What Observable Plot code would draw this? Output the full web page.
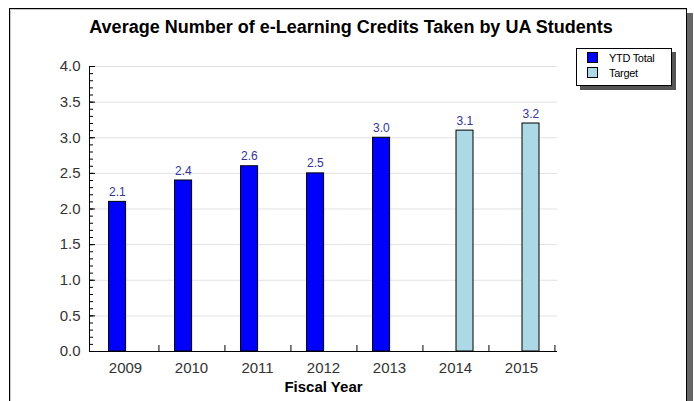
<!DOCTYPE html>
<html>
<head>
<meta charset="utf-8">
<script src="https://cdn.jsdelivr.net/npm/d3@7"></script>
<script src="https://cdn.jsdelivr.net/npm/@observablehq/plot@0.6"></script>
<style>
  body { margin: 0; background: #fff; font-family: "Liberation Sans", Arial, sans-serif; }
  #wrap { position: relative; width: 694px; height: 401px; overflow: hidden; background: #fff; }
  #frame { position: absolute; left: 9px; top: 8px; width: 676px; height: 420px;
           border: 1px solid #000; background: #fff;
           box-shadow: 6px 5px 0 #666, inset 1px 1px 0 #c8c8c8; }
  #title { position: absolute; left: 0; top: 18px; width: 702px; text-align: center;
           font-size: 18px; line-height: 18px; font-weight: bold; color: #000; }
  #chart { position: absolute; left: 0; top: 0; }
  #legend { position: absolute; left: 576px; top: 48px; width: 94px; height: 36px;
            border: 1px solid #000; background: #fff; box-shadow: 4px 4px 0 #555;
            font-size: 11px; color: #000; }
  .item { position: absolute; left: 10px; height: 12px; line-height: 12px; }
  .sw { position: absolute; left: 0; top: 0; width: 9px; height: 9px; border: 1px solid #000; }
  .lab { position: absolute; left: 22px; top: 0; white-space: nowrap; letter-spacing: -0.3px; }
</style>
</head>
<body>
<div id="wrap">
  <div id="frame"></div>
  <div id="title"></div>
  <div id="chart"></div>
  <div id="legend"></div>
</div>
<script>
// ---- data ----
const titleText = "Average Number of e-Learning Credits Taken by UA Students";
const xAxisTitle = "Fiscal Year";
const years = ["2009", "2010", "2011", "2012", "2013", "2014", "2015"];
const ytdYears = ["2009", "2010", "2011", "2012", "2013"];
const ytdValues = [2.1, 2.4, 2.6, 2.5, 3.0];
const targetYears = ["2014", "2015"];
const targetValues = [3.1, 3.2];
const seriesNames = ["YTD Total", "Target"];
const seriesColors = ["#0000ff", "#add8e6"];
const yMajorTicks = [0, 0.5, 1.0, 1.5, 2.0, 2.5, 3.0, 3.5, 4.0];
const yMinorTicks = d3.range(0, 41).map(i => i / 10);

// ---- layout ----
const W = 694, H = 401;
const mL = 89, mR = 137, mT = 66, mB = 50;
const plotW = W - mL - mR;
const plotH = H - mT - mB;
const step = plotW / years.length;

const ytd = ytdYears.map((year, i) => ({year, value: ytdValues[i]}));
const tgt = targetYears.map((year, i) => ({year, value: targetValues[i]}));

document.getElementById("title").textContent = titleText;

const labelColor = "#333399";
const chart = Plot.plot({
  width: W, height: H,
  marginLeft: mL, marginRight: mR, marginTop: mT, marginBottom: mB,
  style: {background: "transparent", fontFamily: "Liberation Sans, Arial, sans-serif", fontSize: "15px", color: "#333", overflow: "visible"},
  x: {type: "band", domain: years, padding: 0},
  y: {domain: [0, 4]},
  marks: [
    Plot.ruleY(yMajorTicks, {y: d => d, stroke: "#e2e2e2"}),
    Plot.barY(ytd, {x: "year", y: "value", fill: seriesColors[0], stroke: "#000", strokeWidth: 1, insetLeft: 16.5, insetRight: 32.4}),
    Plot.barY(tgt, {x: "year", y: "value", fill: seriesColors[1], stroke: "#000", strokeWidth: 1, insetLeft: 34, insetRight: 15}),
    Plot.text(ytd, {x: "year", y: "value", text: d => d.value.toFixed(1), dx: -8.2, dy: -6, lineAnchor: "bottom", fill: labelColor, fontSize: 12}),
    Plot.text(tgt, {x: "year", y: "value", text: d => d.value.toFixed(1), dx: 9.3, dy: -6, lineAnchor: "bottom", fill: labelColor, fontSize: 12}),
    Plot.tickY(yMinorTicks, {y: d => d, stroke: "#000", insetRight: plotW - 4}),
    Plot.tickY(yMajorTicks, {y: d => d, stroke: "#000", insetRight: plotW - 6}),
    Plot.ruleX(years, {x: d => d, dx: step / 2, insetTop: plotH - 6, stroke: "#000"}),
    Plot.ruleY([0], {stroke: "#000"}),
    Plot.frame({anchor: "left", stroke: "#000"}),
    Plot.axisX({tickSize: 0, tickPadding: 11, label: null, fill: "#333"}),
    Plot.axisY({ticks: yMajorTicks, tickSize: 0, tickPadding: 9, tickFormat: d3.format(".1f"), label: null, fill: "#333"}),
    Plot.text([xAxisTitle], {frameAnchor: "bottom", dy: 40, fontWeight: "bold", fontSize: 15, fill: "#000"})
  ]
});
document.getElementById("chart").appendChild(chart);

// legend
const legend = document.getElementById("legend");
seriesNames.forEach((name, i) => {
  const item = document.createElement("div");
  item.className = "item";
  item.style.top = (3 + i * 15) + "px";
  const sw = document.createElement("div");
  sw.className = "sw";
  sw.style.background = seriesColors[i];
  const lab = document.createElement("div");
  lab.className = "lab";
  lab.textContent = name;
  item.appendChild(sw);
  item.appendChild(lab);
  legend.appendChild(item);
});
</script>
</body>
</html>
